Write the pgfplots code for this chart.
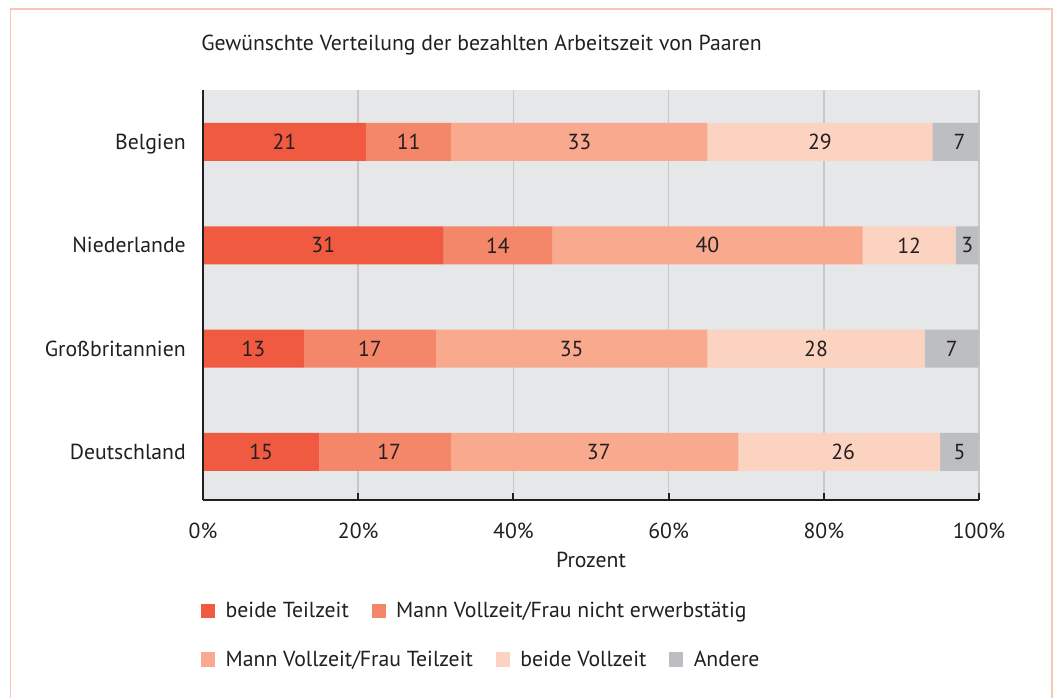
\documentclass[border=0pt]{standalone}
\usepackage{fontspec}
\setmainfont{PT Sans}
\usepackage{pgfplots}
\pgfplotsset{compat=1.18}
\usepackage{pgfplotstable}

\definecolor{cTZ}{HTML}{F05A40}
\definecolor{cNE}{HTML}{F4866A}
\definecolor{cVT}{HTML}{F8A98E}
\definecolor{cVV}{HTML}{FCD3C1}
\definecolor{cAn}{HTML}{BDBEC2}
\definecolor{bgc}{HTML}{E6E7E9}
\definecolor{gridc}{HTML}{C8C8C8}
\definecolor{txt}{HTML}{231F20}
\definecolor{framec}{HTML}{FAC6B2}

% Anteile in Prozent, y: 3 = Belgien ... 0 = Deutschland
\pgfplotstableread{
y tz ne vt vv an
3 21 11 33 29 7
2 31 14 40 12 3
1 13 17 35 28 7
0 15 17 37 26 5
}\werte

% Beschriftungen in der Mitte der Segmente
\pgfplotstableread{
x y lab
10.5 3 21
26.5 3 11
48.5 3 33
79.5 3 29
97.5 3 7
15.5 2 31
38 2 14
65 2 40
91 2 12
98.5 2 3
6.5 1 13
21.5 1 17
47.5 1 35
79 1 28
96.5 1 7
7.5 0 15
24 0 17
51 0 37
82.5 0 26
97.5 0 5
}\labels

\newcommand{\txtsize}{\fontsize{16.3}{19}\selectfont}

\pgfplotsset{
  base/.style={
    scale only axis, width=582pt, height=307.5pt,
    at={(152.25pt,148.5pt)}, anchor=south west,
    xmin=0, xmax=100, ymin=-0.4645, ymax=3.503,
  },
  sq/.style={legend image code/.code={\fill[##1] (0pt,-5.5pt) rectangle (10.5pt,5.5pt);}},
  legstyle/.style={
    legend style={draw=none, fill=none, inner sep=0pt, outer sep=0pt,
      anchor=west, legend columns=-1, font=\txtsize, text=txt,
      /tikz/every odd column/.append style={column sep=6pt},
      /tikz/every even column/.append style={column sep=15pt}},
    legend cell align=left,
    sq,
    every axis plot post/.append style={sq},
  },
}

\begin{document}
\begin{tikzpicture}[font=\txtsize, text=txt]
\useasboundingbox (0,0) rectangle (791.25pt,523.5pt);
\draw[framec, line width=1.1pt] (8pt,-20pt) -- (8pt,516.75pt) -- (789pt,516.75pt) -- (789pt,-20pt);

\begin{axis}[base, legstyle,
  xbar stacked, bar width=28.5pt,
  axis background/.style={fill=bgc},
  axis x line=bottom, axis y line=left,
  axis line style={-, line width=1.8pt, txt},
  xtick={0,20,40,60,80,100},
  xticklabels={0\%,20\%,40\%,60\%,80\%,100\%},
  tick align=inside, major tick length=5pt,
  xtick style={line width=1.5pt, txt},
  ytick={0,1,2,3},
  yticklabels={Deutschland,Großbritannien,Niederlande,Belgien},
  ytick style={draw=none},
  xmajorgrids, grid style={gridc, line width=1.1pt},
  xticklabel style={anchor=base, inner sep=0pt, yshift=-29.25pt},
  yticklabel style={anchor=base east, inner sep=0pt, xshift=-12.75pt, yshift=-5.6pt},
  xlabel={Prozent},
  xlabel style={at={(axis description cs:0.5,0)}, anchor=base, inner sep=0pt, yshift=-51pt},
  title={Gewünschte Verteilung der bezahlten Arbeitszeit von Paaren},
  title style={at={(axis description cs:0,1)}, anchor=base west, inner sep=0pt, yshift=23.25pt, xshift=-1.5pt},
  legend style={at={(-0.0026,-0.2707)}},
]
\addplot[fill=cTZ, draw=none] table[x=tz, y=y] {\werte};
\addplot[fill=cNE, draw=none] table[x=ne, y=y] {\werte};
\addplot[fill=cVT, draw=none, forget plot] table[x=vt, y=y] {\werte};
\addplot[fill=cVV, draw=none, forget plot] table[x=vv, y=y] {\werte};
\addplot[fill=cAn, draw=none, forget plot] table[x=an, y=y] {\werte};
\legend{beide Teilzeit, Mann Vollzeit/Frau nicht erwerbstätig}
\end{axis}

\begin{axis}[base, legstyle,
  axis x line=none, axis y line=left,
  axis line style={-, line width=1.8pt, txt},
  xtick=\empty, ytick=\empty,
  legend style={at={(-0.0026,-0.389)}},
]
\addplot[draw=none, mark=none, forget plot, nodes near coords,
  point meta=explicit symbolic,
  every node near coord/.style={anchor=center, inner sep=0pt, text=txt, font=\txtsize}]
  table[x=x, y=y, meta=lab] {\labels};
\addlegendimage{fill=cVT, draw=none}
\addlegendimage{fill=cVV, draw=none}
\addlegendimage{fill=cAn, draw=none}
\legend{Mann Vollzeit/Frau Teilzeit, beide Vollzeit, Andere}
\end{axis}
\end{tikzpicture}
\end{document}
